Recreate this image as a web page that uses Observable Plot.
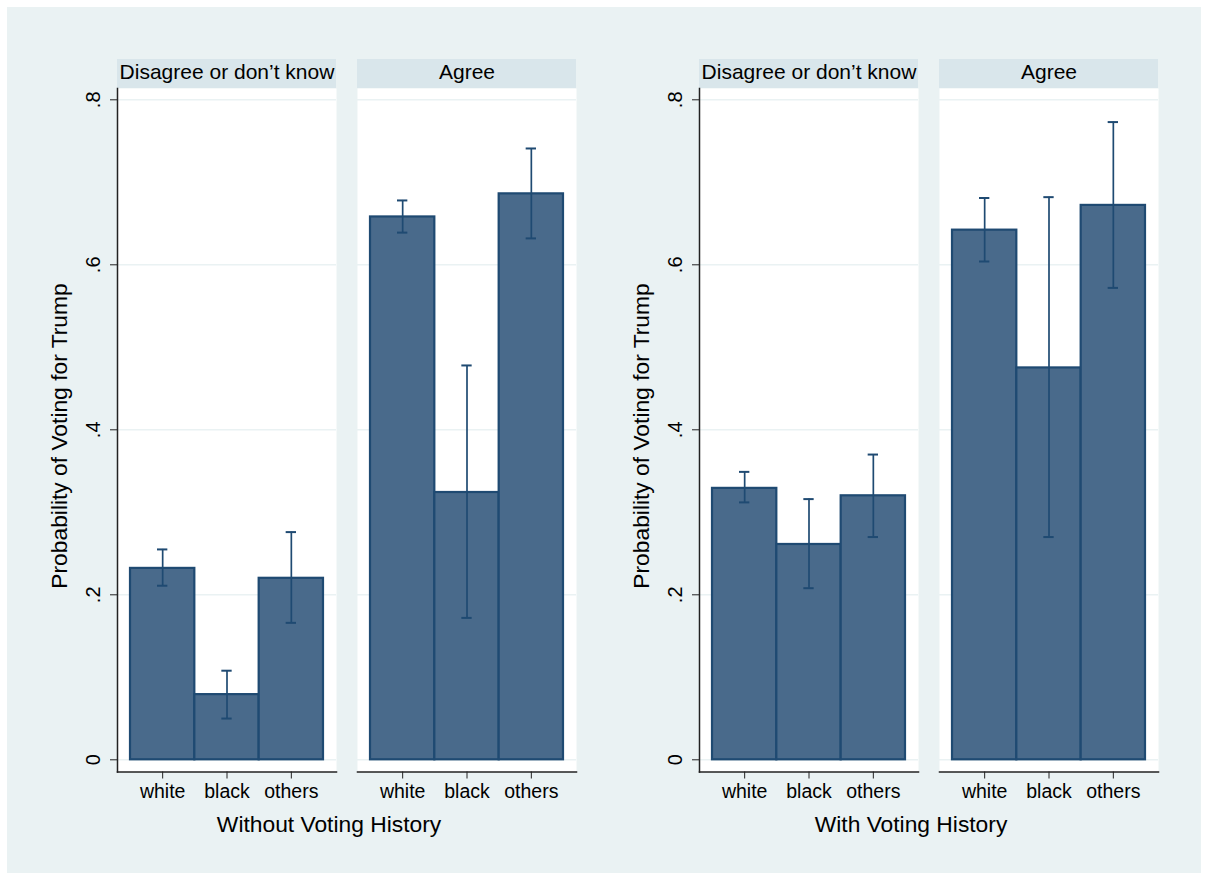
<!DOCTYPE html>
<html>
<head>
<meta charset="utf-8">
<script src="https://cdn.jsdelivr.net/npm/d3@7"></script>
<script src="https://cdn.jsdelivr.net/npm/@observablehq/plot@0.6"></script>
<style>
  html, body { margin: 0; padding: 0; background: #ffffff; }
  #root { position: relative; width: 1209px; height: 880px; overflow: hidden; font-family: "Liberation Sans", Arial, Helvetica, sans-serif; }
  #bg { position: absolute; left: 7px; top: 7px; width: 1194px; height: 866px; background: #eaf2f3; }
  .panel { position: absolute; top: 0; }
  .xtitle { position: absolute; font-size: 22.8px; line-height: 22.8px; color: #000; white-space: nowrap; transform: translate(-50%, -50%); }
  .ytitle { position: absolute; font-size: 22.8px; line-height: 22.8px; color: #000; white-space: nowrap; transform: translate(-50%, -50%) rotate(-90deg); }
</style>
</head>
<body>
<div id="root"><div id="bg"></div></div>
<script>
// ---- data ----
const races = ["white", "black", "others"];
const opinions = ["Disagree or don’t know", "Agree"];
const yTicks = [0, 0.2, 0.4, 0.6, 0.8];
const yTickLabels = ["0", ".2", ".4", ".6", ".8"];
const panelTitles = ["Without Voting History", "With Voting History"];
const yTitle = "Probability of Voting for Trump";

// order: Disagree (white, black, others), Agree (white, black, others)
const withoutEst = [0.232, 0.079, 0.220, 0.658, 0.324, 0.686];
const withoutLo  = [0.211, 0.050, 0.166, 0.639, 0.172, 0.632];
const withoutHi  = [0.255, 0.108, 0.276, 0.678, 0.478, 0.741];
const withEst    = [0.329, 0.261, 0.320, 0.642, 0.475, 0.672];
const withLo     = [0.312, 0.208, 0.270, 0.604, 0.270, 0.572];
const withHi     = [0.349, 0.316, 0.370, 0.681, 0.682, 0.773];

// ---- layout ----
const W = 600, H = 880;
const mLeft = 117, mRight = 24, mTop = 88, frameBottom = 771.5;
const zeroPx = 759.3, pxPerUnit = 825;
const yDomain = [-(frameBottom - zeroPx) / pxPerUnit, (zeroPx - mTop) / pxPerUnit];
const stripH = 29;

const barFill = "#496a8b", barStroke = "#1f4a72", ciColor = "#1f4a72";
const stripFill = "#d9e6eb", gridColor = "#eaf2f3", axisColor = "#222";

function makeTable(est, lo, hi) {
  const rows = [];
  opinions.forEach((o, i) => races.forEach((r, j) => {
    const k = i * races.length + j;
    rows.push({opinion: o, race: r, est: est[k], lo: lo[k], hi: hi[k]});
  }));
  return rows;
}

function panel(est, lo, hi) {
  const data = makeTable(est, lo, hi);
  const stripTop = yDomain[1] + stripH / pxPerUnit;
  return Plot.plot({
    width: W, height: H,
    marginLeft: mLeft, marginRight: mRight, marginTop: mTop, marginBottom: H - frameBottom,
    style: {background: "transparent", fontFamily: "'Liberation Sans', Arial, Helvetica, sans-serif", overflow: "visible"},
    fx: {domain: opinions, paddingInner: 21 / 240, paddingOuter: 0, round: false, axis: null, label: null},
    x: {domain: races, paddingInner: 0, paddingOuter: 13 / 64.33, round: false, label: null},
    y: {domain: yDomain, label: null},
    marks: [
      Plot.frame({fill: "white", stroke: "none"}),
      Plot.rect(opinions, {fx: d => d, y1: yDomain[1], y2: stripTop, fill: stripFill}),
      Plot.text(opinions, {fx: d => d, text: d => d, frameAnchor: "top", dy: -16.4, lineAnchor: "middle", fontSize: 21, fill: "#000"}),
      Plot.ruleY(yTicks, {stroke: gridColor, strokeWidth: 1.6}),
      Plot.barY(data, {fx: "opinion", x: "race", y: "est", fill: barFill, stroke: barStroke, strokeWidth: 2.2}),
      Plot.ruleX(data, {fx: "opinion", x: "race", y1: "lo", y2: "hi", stroke: ciColor, strokeWidth: 1.7}),
      Plot.tickY(data, {fx: "opinion", x: "race", y: "lo", stroke: ciColor, strokeWidth: 2, insetLeft: 27, insetRight: 27}),
      Plot.tickY(data, {fx: "opinion", x: "race", y: "hi", stroke: ciColor, strokeWidth: 2, insetLeft: 27, insetRight: 27}),
      Plot.frame({anchor: "bottom", stroke: axisColor, strokeWidth: 1.5}),
      Plot.frame({anchor: "left", facetAnchor: "left", stroke: axisColor, strokeWidth: 1.5}),
      Plot.axisX({tickSize: 7, tickPadding: 5, fontSize: 19.5, stroke: axisColor, fill: "#000", label: null}),
      Plot.axisY({ticks: yTicks, tickSize: 7, stroke: axisColor, fill: "none", label: null}),
      Plot.text(yTicks, {y: d => d, text: (d, i) => yTickLabels[i], frameAnchor: "left", dx: -24, rotate: -90, lineAnchor: "middle", textAnchor: "middle", fontSize: 20, fill: "#000", facetAnchor: "left"})
    ]
  });
}

const root = document.getElementById("root");
const panels = [[withoutEst, withoutLo, withoutHi], [withEst, withLo, withHi]];
const offsets = [0, 582];
panels.forEach((p, i) => {
  const svg = panel(...p);
  svg.classList.add("panel");
  svg.style.left = offsets[i] + "px";
  root.appendChild(svg);
  const xt = document.createElement("div");
  xt.className = "xtitle";
  xt.textContent = panelTitles[i];
  xt.style.left = (329 + offsets[i]) + "px";
  xt.style.top = "824px";
  root.appendChild(xt);
  const yt = document.createElement("div");
  yt.className = "ytitle";
  yt.textContent = yTitle;
  yt.style.left = (58.5 + offsets[i]) + "px";
  yt.style.top = "436px";
  root.appendChild(yt);
});
</script>
</body>
</html>
